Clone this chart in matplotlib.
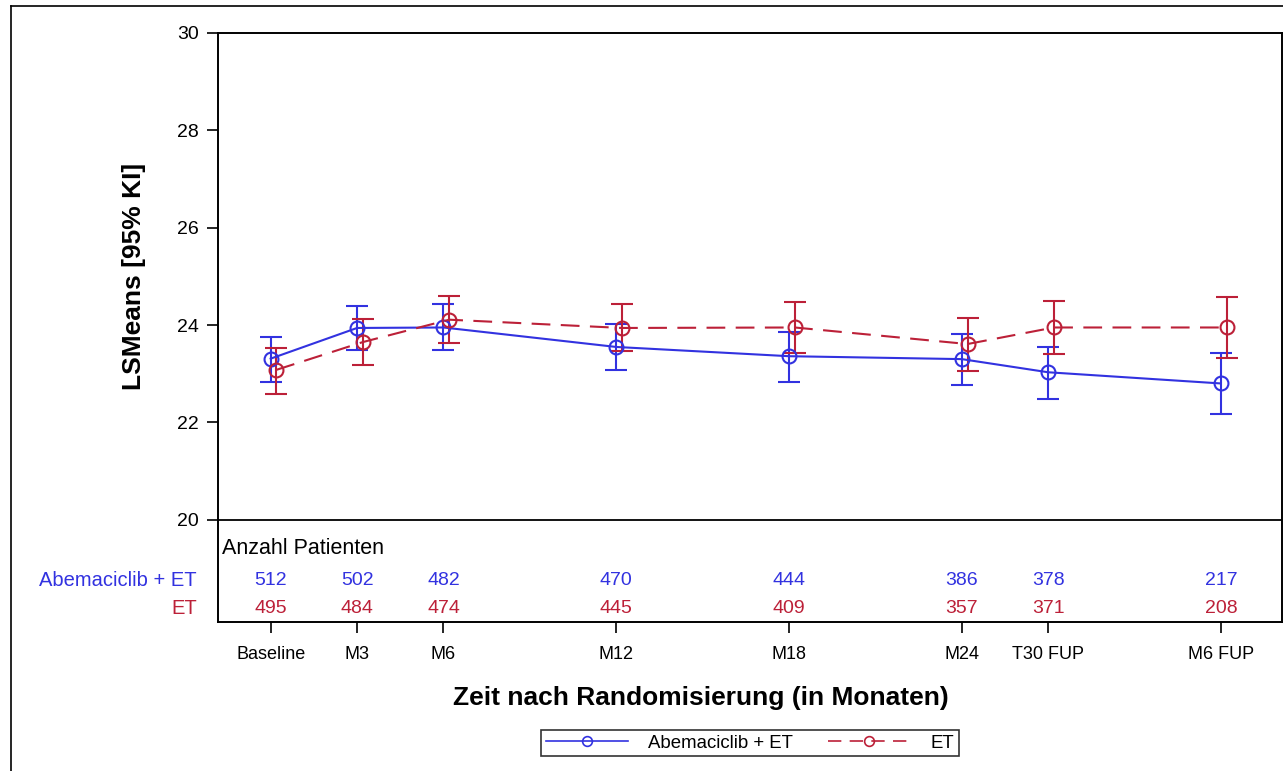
import matplotlib
matplotlib.use("Agg")
import matplotlib.pyplot as plt
from matplotlib.lines import Line2D
from matplotlib.transforms import blended_transform_factory

plt.rcParams['font.family'] = ['Liberation Sans', 'DejaVu Sans']

# Zeitpunkte (Position in Monaten) und Beschriftungen
visits = ['Baseline', 'M3', 'M6', 'M12', 'M18', 'M24', 'T30 FUP', 'M6 FUP']
months = [0, 3, 6, 12, 18, 24, 27, 33]

# Abemaciclib + ET
abema_mean = [23.31, 23.94, 23.95, 23.55, 23.36, 23.30, 23.03, 22.80]
abema_lo = [22.83, 23.48, 23.48, 23.07, 22.83, 22.76, 22.48, 22.18]
abema_hi = [23.76, 24.39, 24.43, 24.03, 23.86, 23.82, 23.55, 23.42]
abema_n = [512, 502, 482, 470, 444, 386, 378, 217]

# ET
et_mean = [23.08, 23.65, 24.11, 23.94, 23.95, 23.61, 23.95, 23.95]
et_lo = [22.59, 23.18, 23.63, 23.46, 23.43, 23.06, 23.40, 23.32]
et_hi = [23.53, 24.13, 24.60, 24.44, 24.48, 24.15, 24.49, 24.58]
et_n = [495, 484, 474, 445, 409, 357, 371, 208]

blue = '#3232E0'
red = '#BC2038'

fig = plt.figure(figsize=(12.83, 7.71), dpi=100)
ax = fig.add_axes([0.1699, 0.1933, 0.8293, 0.7639])

# blau genau auf dem Zeitpunkt, rot leicht nach rechts versetzt
x_ab = [m for m in months]
x_et = [m + 0.2 for m in months]

ax.errorbar(x_ab, abema_mean,
            yerr=[[m - l for m, l in zip(abema_mean, abema_lo)],
                  [h - m for m, h in zip(abema_mean, abema_hi)]],
            color=blue, lw=1.5, elinewidth=1.5, capsize=8, capthick=1.5,
            marker='o', ms=10, mfc='none', mec=blue, mew=1.5)
ax.errorbar(x_et, et_mean,
            yerr=[[m - l for m, l in zip(et_mean, et_lo)],
                  [h - m for m, h in zip(et_mean, et_hi)]],
            color=red, lw=1.5, elinewidth=1.5, capsize=8, capthick=1.5,
            marker='o', ms=10, mfc='none', mec=red, mew=1.5,
            dashes=(9, 5))

ax.set_xlim(-1.83, 35.12)
ax.set_ylim(17.9, 30)
ax.axhline(20, color='black', lw=1.3)

ax.set_yticks([20, 22, 24, 26, 28, 30])
ax.set_xticks(months)
ax.set_xticklabels(visits)
ax.tick_params(axis='both', length=8, width=1.2)
ax.tick_params(axis='y', labelsize=14, pad=6)
ax.tick_params(axis='x', labelsize=13, pad=9)
for s in ax.spines.values():
    s.set_linewidth(1.4)

ax.set_ylabel('LSMeans [95% KI]', fontsize=19, fontweight='bold')
ax.yaxis.set_label_coords(-0.068, 0.587)
fig.text(0.546, 0.0947, 'Zeit nach Randomisierung (in Monaten)',
         fontsize=19, fontweight='bold', ha='center', va='center')

# Anzahl Patienten
ax.text(-1.7, 19.4, 'Anzahl Patienten', fontsize=15.5, ha='left', va='center')
for x, n in zip(months, abema_n):
    ax.text(x, 18.75, str(n), color=blue, fontsize=14, ha='center', va='center')
for x, n in zip(months, et_n):
    ax.text(x, 18.17, str(n), color=red, fontsize=14, ha='center', va='center')
tr = blended_transform_factory(ax.transAxes, ax.transData)
ax.text(-0.02, 18.75, 'Abemaciclib + ET', color=blue, fontsize=14.5,
        ha='right', va='center', transform=tr)
ax.text(-0.02, 18.17, 'ET', color=red, fontsize=14.5,
        ha='right', va='center', transform=tr)

handles = [
    Line2D([], [], color=blue, lw=1.2, marker='o', ms=7, mfc='none', mew=1.2),
    Line2D([], [], color=red, lw=1.2, marker='o', ms=7, mfc='none', mew=1.2,
           dashes=(8, 5)),
]
leg = fig.legend(handles, ['Abemaciclib + ET', 'ET'], loc='center',
                 bbox_to_anchor=(0.5846, 0.036), ncol=2, fontsize=13.4,
                 handlelength=4.4, columnspacing=1.9, handletextpad=1.1,
                 fancybox=False, borderpad=0.25)
leg.get_frame().set_edgecolor('black')
leg.get_frame().set_linewidth(1.2)

# äußerer Rahmen (oben und links)
fig.add_artist(Line2D([0.0086, 1.0], [0.9922, 0.9922], color='black', lw=1.2,
                      transform=fig.transFigure))
fig.add_artist(Line2D([0.0086, 0.0086], [0.0, 0.9922], color='black', lw=1.2,
                      transform=fig.transFigure))

fig.savefig('out.png', dpi=100)
